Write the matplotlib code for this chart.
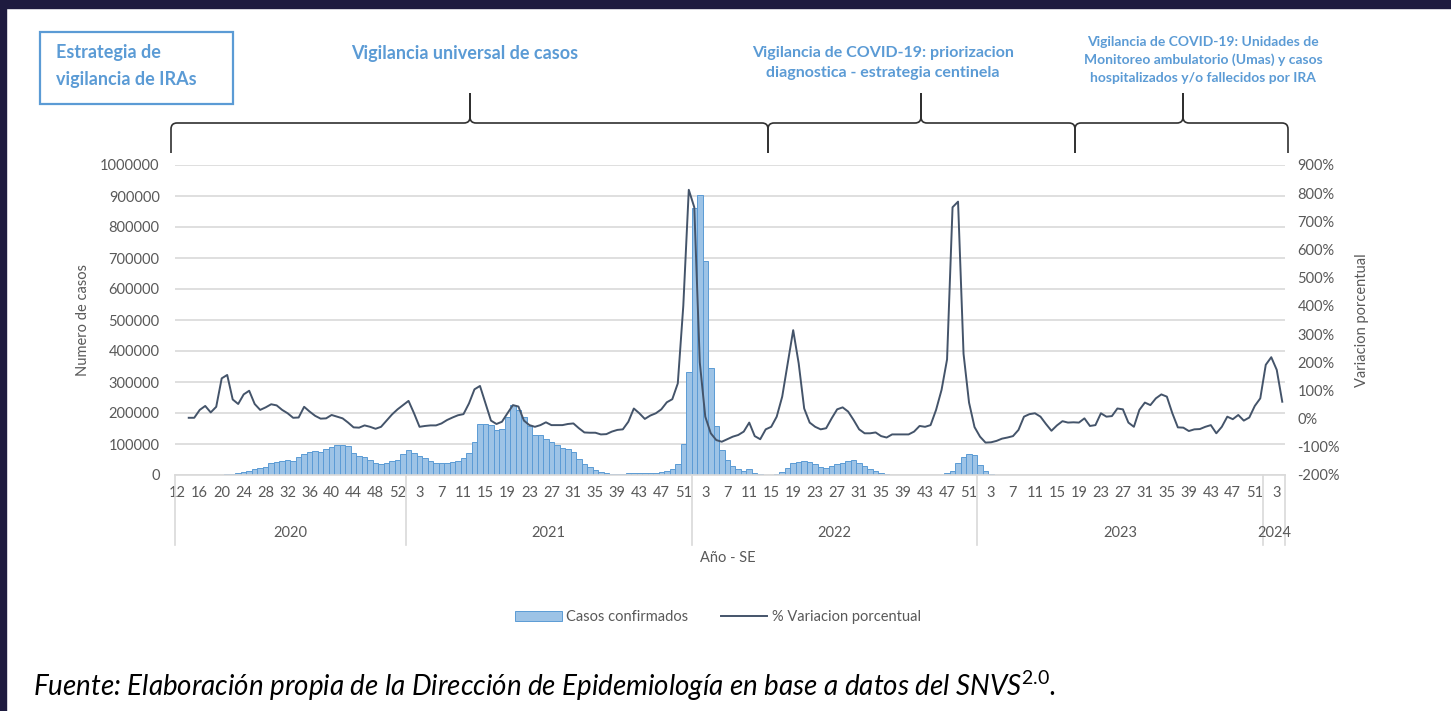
import numpy as np
import matplotlib.pyplot as plt
from matplotlib.patches import Rectangle, PathPatch
from matplotlib.path import Path

plt.rcParams['font.family'] = ['Lato', 'DejaVu Sans']
plt.rcParams['mathtext.fontset'] = 'custom'
plt.rcParams['mathtext.rm'] = 'Lato'
plt.rcParams['mathtext.it'] = 'Lato:italic'

# Semanas epidemiologicas (SE) por año
anios = ['2020', '2021', '2022', '2023', '2024']
semanas_2020 = list(range(12, 54))
semanas_2021 = list(range(1, 53))
semanas_2022 = list(range(1, 53))
semanas_2023 = list(range(1, 53))
semanas_2024 = list(range(1, 5))

# Casos confirmados por SE
casos_2020 = [500, 500, 500, 500, 500, 500, 800, 1000, 1500, 2000, 3000,
              5000, 10000, 14000, 18000, 22000, 27000, 38000, 41000, 45000, 48000,
              45000, 57000, 68000, 74000, 77000, 75000, 84000, 91000, 96000, 96000,
              95000, 70000, 62000, 59000, 48000, 40000, 37000, 38000, 45000, 50000,
              68000]
casos_2021 = [81000, 70000, 61000, 54000, 45000, 40000, 38000, 38000, 41000, 45000,
              54000, 72000, 108000, 163000, 166000, 160000, 145000, 147000, 188000, 226000,
              210000, 188000, 158000, 128000, 130000, 117000, 106000, 97000, 86000, 83000,
              75000, 51000, 35000, 25000, 16000, 10000, 6000, 4000, 3000, 2000,
              5000, 5000, 5000, 5000, 5000, 7000, 11000, 14000, 19000, 35000,
              99000, 333000]
casos_2022 = [860000, 903000, 690000, 345000, 158000, 81000, 48000, 29000, 18000, 14000,
              18000, 7000, 3000, 1000, 1000, 2000, 9000, 22000, 38000, 43000,
              45000, 41000, 35000, 27000, 24000, 29000, 35000, 40000, 45000, 48000,
              38000, 29000, 20000, 13000, 7000, 3000, 1000, 1000, 1000, 1000,
              1000, 1000, 1000, 1000, 1000, 1000, 5000, 14000, 38000, 59000,
              68000, 64000]
casos_2023 = [32000, 12000, 3000, 1500, 1500, 1500, 1500, 1500, 1500, 1500,
              1500, 1500, 1500, 1500, 1500, 1500, 1500, 1500, 1500, 1500,
              1500, 1500, 1500, 1500, 1500, 1500, 1500, 1500, 1500, 1500,
              1500, 1500, 1500, 1500, 1500, 1500, 1500, 1500, 1500, 1500,
              1500, 1500, 1500, 1500, 1500, 1500, 1500, 1500, 1500, 1500,
              1500, 1500]
casos_2024 = [1500, 1500, 1500, 1500]

# % variacion porcentual por SE
var_2020 = [np.nan, np.nan, 3, 3, 31, 45, 22, 42, 143, 155,
            68, 52, 86, 99, 52, 31, 40, 51, 47, 31,
            19, 3, 4, 42, 25, 10, 0, 1, 13, 7,
            1, -14, -31, -32, -24, -29, -36, -29, -7, 15,
            33, 48]
var_2021 = [63, 19, -29, -26, -24, -24, -17, -5, 4, 12,
            16, 54, 104, 116, 54, -7, -19, -11, 19, 48,
            43, -7, -23, -29, -23, -13, -23, -23, -23, -19,
            -17, -34, -49, -50, -50, -56, -55, -46, -40, -38,
            -11, 36, 19, -1, 11, 19, 33, 58, 69, 125,
            400, 812]
var_2022 = [750, 200, 7, -52, -76, -82, -73, -64, -58, -46,
            -14, -62, -73, -38, -29, 7, 78, 196, 314, 196,
            36, -14, -29, -38, -34, 1, 33, 40, 25, -5,
            -38, -52, -52, -49, -62, -67, -56, -56, -56, -56,
            -46, -26, -29, -23, 31, 102, 210, 750, 770, 230,
            57, -30]
var_2023 = [-64, -85, -84, -79, -71, -67, -62, -40, 7, 16,
            19, 7, -19, -43, -24, -9, -14, -13, -14, 1,
            -26, -23, 19, 7, 9, 36, 33, -14, -29, 31,
            57, 48, 72, 86, 78, 19, -31, -32, -44, -38,
            -37, -29, -23, -52, -29, 7, -2, 13, -7, 4,
            45, 72]
var_2024 = [191, 218, 173, 60]

semanas_por_anio = [semanas_2020, semanas_2021, semanas_2022, semanas_2023, semanas_2024]
semanas = sum(semanas_por_anio, [])
casos = casos_2020 + casos_2021 + casos_2022 + casos_2023 + casos_2024
variacion = var_2020 + var_2021 + var_2022 + var_2023 + var_2024
assert len(semanas) == len(casos) == len(variacion)

W, H = 1451, 711
gris = '#595959'
azul = '#5B9BD5'

def fx(px):
    return px / W

def fy(py):
    return 1 - py / H

fig = plt.figure(figsize=(W / 100, H / 100), dpi=100)
fig.patch.set_facecolor('white')

x = np.arange(len(casos))
ax = fig.add_axes([fx(175), fy(475), 1110 / W, 310 / H])
barras = ax.bar(x, casos, width=1.0, color='#9DC3E6', edgecolor=azul, linewidth=0.7, zorder=2)
ax.set_xlim(-0.5, len(casos) - 0.5)
ax.set_ylim(0, 1000000)
ax.set_yticks(np.arange(0, 1000001, 100000))
ax.yaxis.set_major_formatter(lambda v, p: f'{int(v)}')
ax.grid(axis='y', color='#D9D9D9', lw=1.2, zorder=0)
ax.set_axisbelow(True)
for s in ['top', 'left', 'right']:
    ax.spines[s].set_visible(False)
ax.spines['bottom'].set_color('#D9D9D9')
ax.spines['bottom'].set_linewidth(1.2)
ax.tick_params(axis='y', length=0, pad=11, labelsize=10.5, labelcolor=gris)
pos = x[::4]
ax.set_xticks(pos)
ax.set_xticklabels([str(semanas[i]) for i in pos])
ax.tick_params(axis='x', length=0, pad=8, labelsize=10.5, labelcolor=gris)

# separadores de años y etiquetas
limites = [-0.5]
for s in semanas_por_anio:
    limites.append(limites[-1] + len(s))
tr = ax.get_xaxis_transform()
for b in limites:
    ax.plot([b, b], [0, -0.226], transform=tr, color='#D9D9D9', lw=1.2, clip_on=False)
for a, b0, b1 in zip(anios, limites[:-1], limites[1:]):
    ax.text((b0 + b1) / 2, -0.187, a, transform=tr, ha='center', va='center',
            fontsize=10.5, color=gris)

ax2 = ax.twinx()
linea, = ax2.plot(x, variacion, color='#44546A', lw=1.4, zorder=3)
ax2.set_ylim(-200, 900)
ax2.set_yticks(range(-200, 901, 100))
ax2.yaxis.set_major_formatter(lambda v, p: f'{int(v)}%')
for s in ax2.spines.values():
    s.set_visible(False)
ax2.tick_params(axis='y', length=0, pad=9, labelsize=10.5, labelcolor=gris)

fig.text(fx(83), fy(320), 'Numero de casos', rotation=90, ha='center', va='center',
         fontsize=10.5, color=gris)
fig.text(fx(1362), fy(320), 'Variacion porcentual', rotation=90, ha='center', va='center',
         fontsize=10.5, color=gris)
fig.text(fx(728), fy(558), 'Año - SE', ha='center', va='center', fontsize=10.5, color=gris)

fig.legend([barras, linea], ['Casos confirmados', '% Variacion porcentual'],
           loc='center', bbox_to_anchor=(fx(718), fy(617)), ncol=2, frameon=False,
           fontsize=10.5, labelcolor=gris, handlelength=3.2, columnspacing=2.2,
           handletextpad=0.3)

# llaves superiores
def llave(xa, xb, xm, ytope=93, ylinea=123, yfin=153, r=6):
    verts = [(xa, yfin), (xa, ylinea + r), (xa, ylinea), (xa + r, ylinea),
             (xm - r, ylinea), (xm, ylinea), (xm, ylinea - r), (xm, ytope),
             (xm, ylinea - r), (xm, ylinea), (xm + r, ylinea),
             (xb - r, ylinea), (xb, ylinea), (xb, ylinea + r), (xb, yfin)]
    codes = [Path.MOVETO, Path.LINETO, Path.CURVE3, Path.CURVE3,
             Path.LINETO, Path.CURVE3, Path.CURVE3, Path.LINETO,
             Path.LINETO, Path.CURVE3, Path.CURVE3,
             Path.LINETO, Path.CURVE3, Path.CURVE3, Path.LINETO]
    verts = [(fx(a), fy(b)) for a, b in verts]
    fig.patches.append(PathPatch(Path(verts, codes), transform=fig.transFigure,
                                 fill=False, edgecolor='#303030', lw=1.2))

llave(171, 768, 470)
llave(768, 1075, 921)
llave(1075, 1288, 1183)

fig.patches.append(Rectangle((fx(40), fy(104)), 193 / W, 72 / H, transform=fig.transFigure,
                             fill=False, edgecolor=azul, lw=1.6))
fig.text(fx(56), fy(66), 'Estrategia de\nvigilancia de IRAs', ha='left', va='center',
         fontsize=13, fontweight='bold', color=azul, linespacing=1.65)
fig.text(fx(465), fy(54), 'Vigilancia universal de casos', ha='center', va='center',
         fontsize=13, fontweight='bold', color=azul)
fig.text(fx(883), fy(63), 'Vigilancia de COVID-19: priorizacion\ndiagnostica - estrategia centinela',
         ha='center', va='center', fontsize=11.5, fontweight='bold', color=azul, linespacing=1.55)
fig.text(fx(1203), fy(60), 'Vigilancia de COVID-19: Unidades de\nMonitoreo ambulatorio (Umas) y casos\n'
         'hospitalizados y/o fallecidos por IRA',
         ha='center', va='center', fontsize=10, fontweight='bold', color=azul, linespacing=1.55)

fig.text(fx(33), fy(686), 'Fuente: Elaboración propia de la Dirección de Epidemiología en base a datos del SNVS$^{\\mathit{2.0}}$.',
         ha='left', va='center', fontsize=20, style='italic', color='black')

# bordes oscuros
fig.patches.append(Rectangle((0, fy(8)), 1, 8 / H, transform=fig.transFigure,
                             color='#1E1B3F', zorder=10))
fig.patches.append(Rectangle((0, 0), fx(6), 1, transform=fig.transFigure,
                             color='#1E1B3F', zorder=10))

fig.savefig('out.png', dpi=100)
